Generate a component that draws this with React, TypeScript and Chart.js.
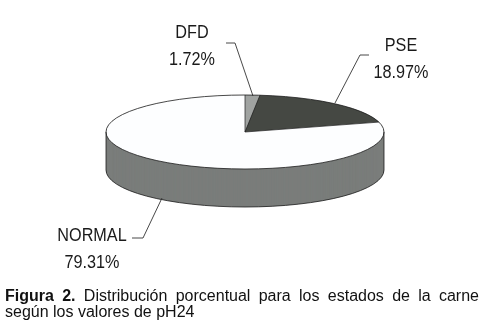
import React, { useEffect, useRef } from "react";
import { Chart, registerables } from "chart.js";

Chart.register(...registerables);

const categories = ["DFD", "PSE", "NORMAL"];
const values = [1.72, 18.97, 79.31];
const valueLabels = ["1.72%", "18.97%", "79.31%"];
const sliceColors = ["#a0a3a1", "#454843", "#fdfeff"];
const sideColor = "#7a7d7b";
const outlineColor = "#1c1c1c";

const centerX = 245;
const centerY = 132;
const radiusX = 139;
const radiusY = 37;
const depth = 38;

const labelBoxes = [
  { x: 192, y1: 38, y2: 65, path: [[226, 43], [235, 43], [253, 96]] },
  { x: 401, y1: 51, y2: 78, path: [[369, 55], [360, 55], [335, 103]] },
  { x: 92, y1: 241, y2: 268, path: [[132, 238], [143, 238], [162, 198]] },
];

const flatten = (ctx: CanvasRenderingContext2D, cy: number, dy: number) => {
  ctx.translate(0, centerY + dy);
  ctx.scale(1, radiusY / radiusX);
  ctx.translate(0, -cy);
};

const pie3d = {
  id: "pie3d",
  beforeDatasetsDraw(chart: any) {
    const ctx = chart.ctx as CanvasRenderingContext2D;
    const arcs = chart.getDatasetMeta(0).data;
    const cy = arcs[0].y;
    for (let d = depth; d > 0; d -= 0.5) {
      ctx.save();
      flatten(ctx, cy, d);
      for (const el of arcs) {
        const saved = el.options;
        const o = Object.create(saved);
        o.backgroundColor = sideColor;
        o.borderColor = sideColor;
        o.borderWidth = 0;
        el.options = o;
        el.draw(ctx);
        el.options = saved;
      }
      ctx.restore();
    }
    ctx.save();
    flatten(ctx, cy, 0);
  },
  afterDatasetsDraw(chart: any) {
    const ctx = chart.ctx as CanvasRenderingContext2D;
    ctx.restore();
    const arcs = chart.getDatasetMeta(0).data;
    ctx.save();
    ctx.strokeStyle = outlineColor;
    ctx.lineWidth = 0.8;
    // top rim
    ctx.beginPath();
    ctx.ellipse(centerX, centerY, radiusX, radiusY, 0, 0, Math.PI * 2);
    ctx.stroke();
    // bottom rim and side edges
    ctx.beginPath();
    ctx.moveTo(centerX - radiusX, centerY);
    ctx.lineTo(centerX - radiusX, centerY + depth);
    ctx.ellipse(centerX, centerY + depth, radiusX, radiusY, 0, Math.PI, 0, true);
    ctx.lineTo(centerX + radiusX, centerY);
    ctx.stroke();
    // slice boundaries
    ctx.lineWidth = 0.7;
    for (const el of arcs) {
      ctx.beginPath();
      ctx.moveTo(centerX, centerY);
      ctx.lineTo(
        centerX + Math.cos(el.startAngle) * radiusX,
        centerY + Math.sin(el.startAngle) * radiusY
      );
      ctx.stroke();
    }
    // labels and leader lines
    ctx.strokeStyle = "#333";
    ctx.lineWidth = 0.9;
    ctx.fillStyle = "#1a1a1a";
    ctx.textAlign = "center";
    ctx.textBaseline = "alphabetic";
    ctx.font = '18px "Liberation Sans"';
    labelBoxes.forEach((b, i) => {
      ctx.beginPath();
      b.path.forEach(([x, y], j) => (j ? ctx.lineTo(x, y) : ctx.moveTo(x, y)));
      ctx.stroke();
      ctx.save();
      ctx.translate(b.x, 0);
      ctx.scale(0.9, 1);
      ctx.fillText(categories[i], 0, b.y1);
      ctx.fillText(valueLabels[i], 0, b.y2);
      ctx.restore();
    });
    ctx.restore();
  },
};

export default function App() {
  const ref = useRef<HTMLCanvasElement>(null);
  useEffect(() => {
    const chart = new Chart(ref.current!, {
      type: "pie",
      data: {
        labels: categories,
        datasets: [
          {
            data: values,
            backgroundColor: sliceColors,
            borderWidth: 0,
            clip: false,
          } as any,
        ],
      },
      options: {
        responsive: false,
        animation: false,
        layout: { padding: { left: 106, right: 99, top: 24.5, bottom: 24.5 } },
        plugins: { legend: { display: false }, tooltip: { enabled: false } },
      },
      plugins: [pie3d],
    });
    return () => chart.destroy();
  }, []);
  const captionStyle: React.CSSProperties = {
    position: "absolute",
    left: 5,
    width: 474,
    fontFamily: '"Liberation Sans", Arial, sans-serif',
    fontSize: 16,
    lineHeight: "16px",
    color: "#111",
    whiteSpace: "nowrap",
  };
  return (
    <div style={{ position: "absolute", left: 0, top: 0, width: 483, height: 327, background: "#fff", overflow: "hidden" }}>
      <canvas ref={ref} width={483} height={327} style={{ position: "absolute", left: 0, top: 0 }} />
      <div style={{ ...captionStyle, top: 288, whiteSpace: "normal", textAlign: "justify", textAlignLast: "justify" }}>
        <b>Figura 2.</b> Distribución porcentual para los estados de la carne
      </div>
      <div style={{ ...captionStyle, top: 304 }}>según los valores de pH24</div>
    </div>
  );
}
